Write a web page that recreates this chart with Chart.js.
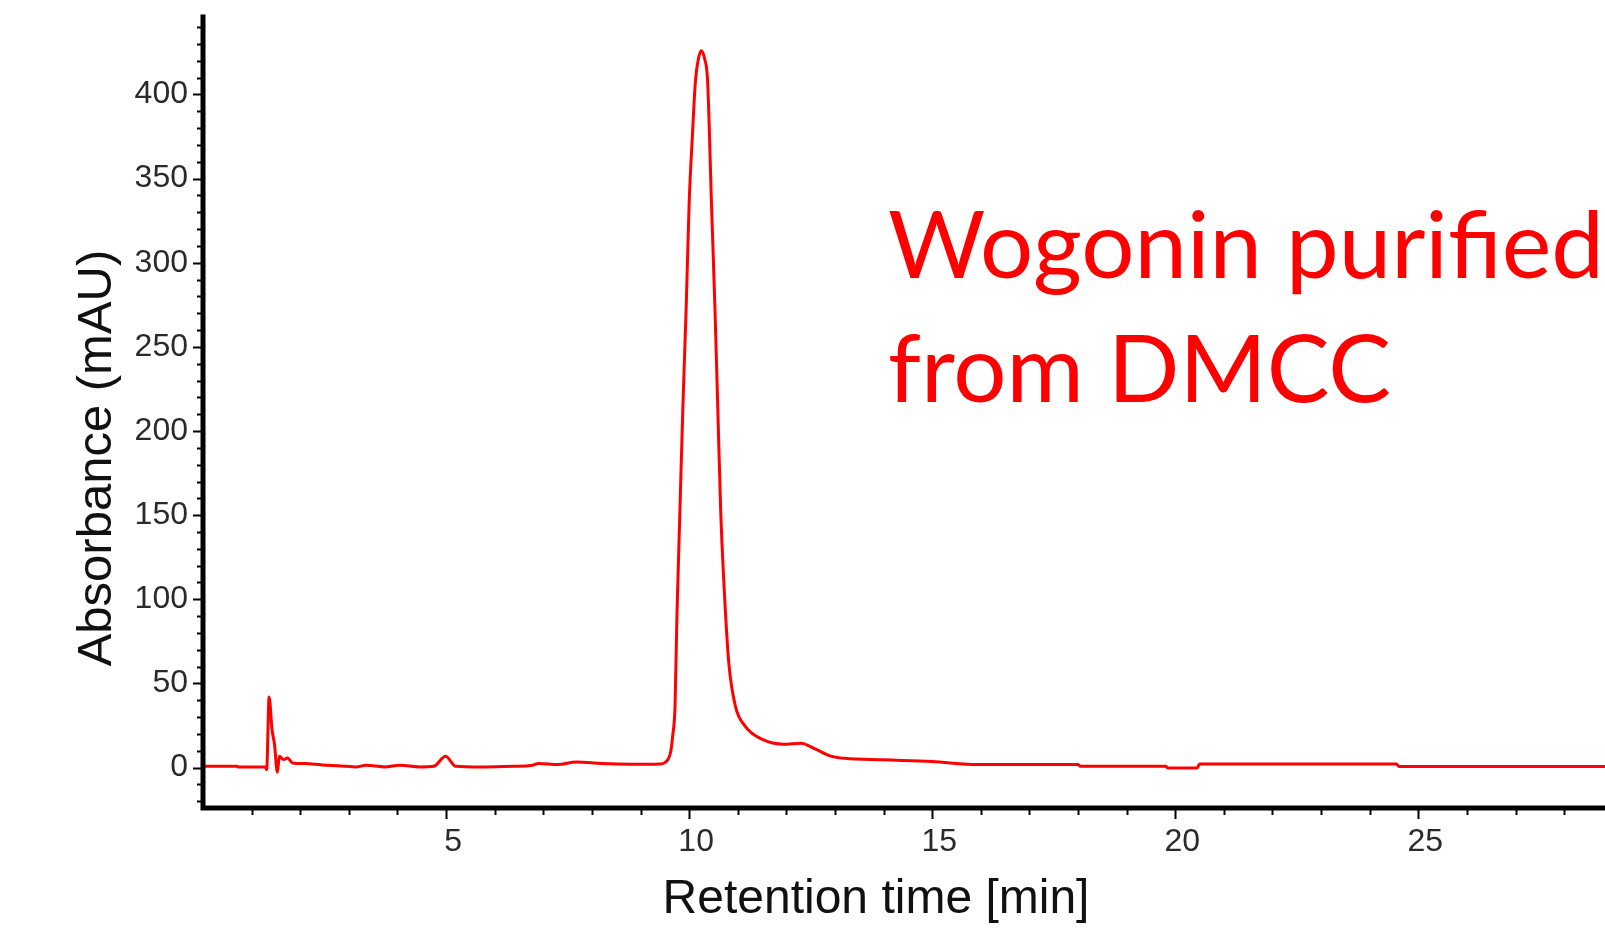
<!DOCTYPE html>
<html>
<head>
<meta charset="utf-8">
<script src="https://cdn.jsdelivr.net/npm/chart.js@4.4.1/dist/chart.umd.min.js"></script>
<style>
  html, body { margin: 0; padding: 0; background: #fff; }
  #wrap { width: 1605px; height: 928px; }
</style>
</head>
<body>
<div id="wrap"><canvas id="chrom"></canvas></div>
<script>
// Retention time (min) and absorbance (mAU)
const times = [0, 0.7, 0.72, 1.28, 1.31, 1.36, 1.42, 1.47, 1.53, 1.57, 1.66, 1.74, 1.84, 2.1, 2.45,
  2.85, 3.15, 3.35, 3.75, 4.05, 4.45, 4.75, 4.99, 5.2, 5.7, 6.4, 6.75, 6.9, 7.3, 7.68, 8.2, 8.8,
  9.4, 9.51, 9.62, 9.66, 9.71, 9.75, 9.81, 9.87, 9.94, 10.0, 10.07, 10.13, 10.19, 10.25,
  10.32, 10.38, 10.46, 10.53, 10.59, 10.65, 10.75, 10.82, 10.95, 11.16, 11.52, 11.94,
  12.3, 12.6, 12.9, 13.2, 14.0, 15.0, 15.95, 18.0, 18.05, 19.8, 19.85, 20.45, 20.5, 24.55, 24.6, 28.9];
const absorbance = [0.8, 0.8, 0.4, 0.4, -1.2, 42, 22.6, 14, -2.8, 6.7, 4.8, 5.7, 2.8, 2.4, 1.6,
  1.0, 0.4, 1.4, 0.4, 1.4, 0.4, 0.8, 6.7, 0.8, 0.4, 0.8, 1.2, 2.4, 1.8, 3.3, 2.4, 2.0,
  2.2, 3.2, 9.3, 18.4, 36.7, 91, 152, 213, 274, 335, 377, 408, 421, 426,
  421, 408, 335, 274, 213, 152, 91, 61, 36.7, 24.4, 16.6, 13.9,
  14.5, 11, 7, 5.5, 4.6, 3.6, 1.8, 1.8, 0.8, 0.8, -0.2, -0.2, 2.2, 2.2, 0.6, 0.6];

const xLabelTicks = [5, 10, 15, 20, 25];
const yLabelTicks = [0, 50, 100, 150, 200, 250, 300, 350, 400];
const xRange = [0, 28.84];
const yRange = [-24, 446];

const axisFont = 'Liberation Sans, Arial, sans-serif';

// drop the extra room Chart.js keeps for edge labels
function fixAxisBox(s, size) {
  if (s.isHorizontal()) s.height = size; else s.width = size;
  s.paddingLeft = 0; s.paddingRight = 0; s.paddingTop = 0; s.paddingBottom = 0;
}

// Axis lines, minor/major tick marks, axis titles and the annotation
const decorations = {
  id: 'decorations',
  afterDraw(chart) {
    const { ctx, chartArea, scales } = chart;
    const xs = scales.x, ys = scales.y;
    const left = chartArea.left, bottom = chartArea.bottom;

    ctx.save();
    ctx.strokeStyle = '#000';

    // tick marks
    ctx.lineWidth = 2;
    for (let v = 1; v <= 28; v++) {
      const px = Math.round(xs.getPixelForValue(v)) + 0.5;
      const len = v % 5 === 0 ? 9 : 5;
      ctx.beginPath();
      ctx.moveTo(px, bottom + 2);
      ctx.lineTo(px, bottom + 2 + len);
      ctx.stroke();
    }
    for (let v = -20; v <= 440; v += 10) {
      const py = Math.round(ys.getPixelForValue(v)) + 0.5;
      const len = v % 50 === 0 ? 8 : 4;
      ctx.beginPath();
      ctx.moveTo(left - 2, py);
      ctx.lineTo(left - 2 - len, py);
      ctx.stroke();
    }

    // axis lines
    ctx.lineWidth = 5;
    ctx.lineCap = 'square';
    ctx.beginPath();
    ctx.moveTo(left, chartArea.top);
    ctx.lineTo(left, bottom);
    ctx.lineTo(chartArea.right + 5, bottom);
    ctx.stroke();

    // axis titles
    ctx.fillStyle = '#111';
    ctx.font = '48px ' + axisFont;
    ctx.textAlign = 'center';
    ctx.textBaseline = 'alphabetic';
    ctx.fillText('Retention time [min]', left + 673, 913);

    ctx.save();
    ctx.translate(111, 458);
    ctx.rotate(-Math.PI / 2);
    ctx.font = '49px ' + axisFont;
    ctx.fillText('Absorbance (mAU)', 0, 0);
    ctx.restore();

    // annotation
    ctx.fillStyle = '#ff0000';
    ctx.font = '94px Lato, "Open Sans", sans-serif';
    ctx.textAlign = 'left';
    ctx.fillText('Wogonin purified', 888, 278);
    ctx.fillText('from DMCC', 888, 402);
    ctx.restore();
  }
};

new Chart(document.getElementById('chrom'), {
  type: 'line',
  data: {
    datasets: [{
      data: times.map((t, i) => ({ x: t, y: absorbance[i] })),
      borderColor: '#ff0000',
      borderWidth: 3,
      pointRadius: 0,
      cubicInterpolationMode: 'monotone',
      fill: false
    }]
  },
  options: {
    responsive: true,
    maintainAspectRatio: false,
    animation: false,
    layout: { padding: { top: 17, right: 0, bottom: 0, left: 0 } },
    plugins: { legend: { display: false }, tooltip: { enabled: false } },
    scales: {
      x: {
        type: 'linear',
        min: xRange[0],
        max: xRange[1],
        grid: { display: false },
        border: { display: false },
        afterFit: s => fixAxisBox(s, 120),
        ticks: {
          stepSize: 5,
          autoSkip: false,
          maxRotation: 0,
          padding: 7,
          labelOffset: 7,
          color: '#2a2a2a',
          font: { family: axisFont, size: 32 },
          callback: v => xLabelTicks.includes(v) ? String(v) : ''
        }
      },
      y: {
        min: yRange[0],
        max: yRange[1],
        grid: { display: false },
        border: { display: false },
        afterFit: s => fixAxisBox(s, 203),
        ticks: {
          stepSize: 50,
          autoSkip: false,
          padding: 7,
          color: '#2a2a2a',
          font: { family: axisFont, size: 32 },
          callback: v => yLabelTicks.includes(v) ? String(v) : ''
        }
      }
    }
  },
  plugins: [decorations]
});
</script>
</body>
</html>
